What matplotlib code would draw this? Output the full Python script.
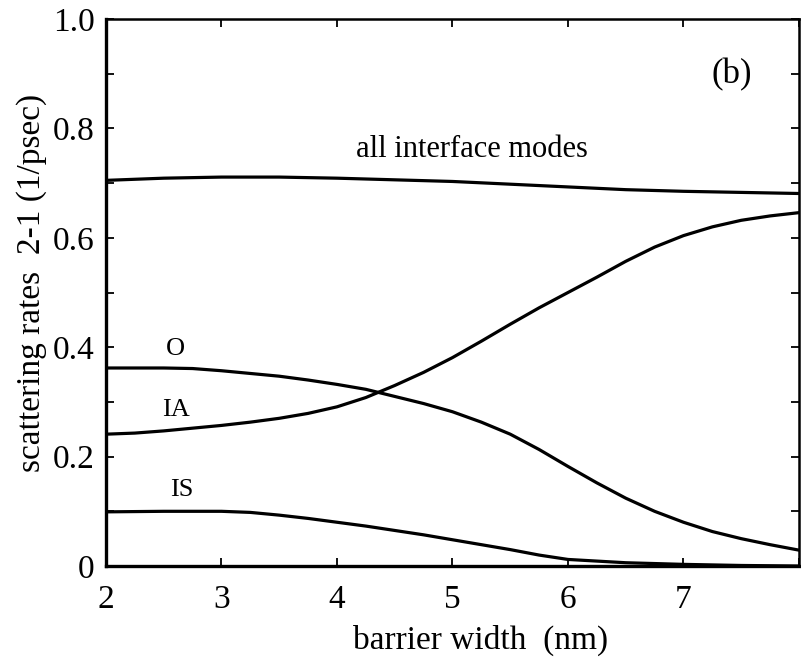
import numpy as np
import matplotlib
matplotlib.use("Agg")
import matplotlib.pyplot as plt
from matplotlib.ticker import MultipleLocator


# -----------------------------
# Scattering rates 2-1 vs barrier width
# -----------------------------
width_all = [2.0, 2.5, 3.0, 3.5, 4.0, 4.5, 5.0, 5.5, 6.0, 6.5, 7.0, 7.5, 8.0]
rate_all = [0.705, 0.709, 0.711, 0.711, 0.709, 0.706, 0.703,
            0.698, 0.693, 0.688, 0.685, 0.683, 0.681]

width_o = [2.0, 2.25, 2.5, 2.75, 3.0, 3.25, 3.5, 3.75, 4.0, 4.25, 4.5, 4.75,
           5.0, 5.25, 5.5, 5.75, 6.0, 6.25, 6.5, 6.75, 7.0, 7.25, 7.5, 7.75, 8.0]
rate_o = [0.362, 0.362, 0.362, 0.361, 0.357, 0.352, 0.347, 0.340, 0.332,
          0.323, 0.310, 0.297, 0.282, 0.263, 0.241, 0.213, 0.182, 0.152,
          0.124, 0.100, 0.080, 0.063, 0.050, 0.039, 0.029]

width_ia = width_o
rate_ia = [0.241, 0.243, 0.247, 0.252, 0.257, 0.263, 0.270, 0.279, 0.291,
           0.308, 0.330, 0.354, 0.381, 0.411, 0.442, 0.472, 0.500, 0.528,
           0.557, 0.583, 0.604, 0.620, 0.632, 0.640, 0.646]

width_is = [2.0, 2.5, 3.0, 3.25, 3.5, 3.75, 4.0, 4.25, 4.5, 4.75, 5.0,
            5.25, 5.5, 5.75, 6.0, 6.5, 7.0, 7.5, 8.0]
rate_is = [0.099, 0.100, 0.100, 0.098, 0.093, 0.087, 0.080, 0.073, 0.065,
           0.057, 0.048, 0.039, 0.030, 0.020, 0.012, 0.006, 0.003, 0.001, 0.0]

x_ticks = [2, 3, 4, 5, 6, 7]
y_ticks = [0, 0.2, 0.4, 0.6, 0.8, 1.0]
y_tick_labels = ["0", "0.2", "0.4", "0.6", "0.8", "1.0"]

plt.rcParams["font.family"] = ["Liberation Serif", "DejaVu Serif"]

fig = plt.figure(figsize=(8.01, 6.62), dpi=100)
ax = fig.add_axes([0.1323, 0.145, 0.8652, 0.8263])

for xs, ys in [(width_all, rate_all), (width_o, rate_o),
               (width_ia, rate_ia), (width_is, rate_is)]:
    ax.plot(xs, ys, color="black", lw=2.3, solid_capstyle="round",
            solid_joinstyle="round")

ax.set_xlim(2, 8)
ax.set_ylim(0, 1.0)

ax.set_xticks(x_ticks)
ax.set_xticklabels([str(t) for t in x_ticks])
ax.xaxis.set_minor_locator(MultipleLocator(1))
ax.set_yticks(y_ticks)
ax.set_yticklabels(y_tick_labels)
ax.yaxis.set_minor_locator(MultipleLocator(0.1))

ax.tick_params(which="both", direction="in", top=True, right=True,
               length=6, width=1.3, labelsize=24)
ax.tick_params(axis="x", pad=13)
ax.tick_params(axis="y", pad=8)

for side in ["left", "bottom"]:
    ax.spines[side].set_linewidth(2.4)
for side in ["top", "right"]:
    ax.spines[side].set_linewidth(1.8)

# curve labels
ax.text(5.17, 0.762, "all interface modes", fontsize=22,
        ha="center", va="center")
ax.text(2.6, 0.397, "O", fontsize=19, ha="center", va="center")
ax.text(2.61, 0.285, "IA", fontsize=19, ha="center", va="center")
ax.text(2.66, 0.139, "IS", fontsize=19, ha="center", va="center")
ax.text(7.42, 0.898, "(b)", fontsize=25, ha="center", va="center")

fig.text(0.600, 0.033, "barrier width  (nm)", fontsize=24,
         ha="center", va="center")
fig.text(0.040, 0.573, "scattering rates  2-1 (1/psec)", fontsize=24,
         ha="center", va="center", rotation=90)

fig.savefig("out.png", dpi=100)
plt.close(fig)
